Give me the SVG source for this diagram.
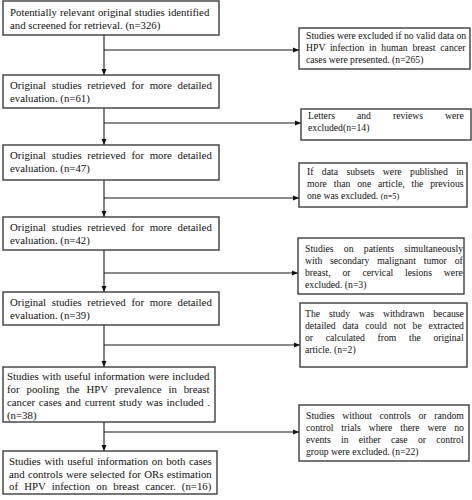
<svg xmlns="http://www.w3.org/2000/svg" width="472" height="500" viewBox="0 0 472 500">
<style>
.box{fill:#fff;stroke:#3c3c3c;stroke-width:1.4}
.l{font-family:"Liberation Serif","Times New Roman",serif;font-size:10.8px;fill:#111}
.r{font-family:"Liberation Serif","Times New Roman",serif;font-size:9.7px;fill:#111}
.c{stroke:#1a1a1a;stroke-width:1.1;fill:none}
</style>
<defs>
<marker id="ah" viewBox="0 0 6 6" refX="6" refY="3" markerWidth="6" markerHeight="6" markerUnits="userSpaceOnUse" orient="auto">
<path d="M0,0.5 L6,3 L0,5.5 Z" fill="#111"/>
</marker>
</defs>
<rect width="472" height="500" fill="#fff"/>
<g id="connectors">
<line class="c" x1="104" y1="35" x2="104" y2="75" marker-end="url(#ah)"/>
<line class="c" x1="104" y1="50" x2="299" y2="50" marker-end="url(#ah)"/>
<line class="c" x1="104" y1="108" x2="104" y2="145" marker-end="url(#ah)"/>
<line class="c" x1="104" y1="123" x2="301" y2="123" marker-end="url(#ah)"/>
<line class="c" x1="104" y1="180" x2="104" y2="217" marker-end="url(#ah)"/>
<line class="c" x1="104" y1="198" x2="299" y2="198" marker-end="url(#ah)"/>
<line class="c" x1="104" y1="250" x2="104" y2="292" marker-end="url(#ah)"/>
<line class="c" x1="104" y1="273" x2="298" y2="273" marker-end="url(#ah)"/>
<line class="c" x1="104" y1="325" x2="104" y2="367" marker-end="url(#ah)"/>
<line class="c" x1="104" y1="345" x2="300" y2="345" marker-end="url(#ah)"/>
<line class="c" x1="104" y1="422" x2="104" y2="451" marker-end="url(#ah)"/>
<line class="c" x1="104" y1="432" x2="299" y2="432" marker-end="url(#ah)"/>
</g>
<g id="n326">
<rect class="box" x="3" y="1" width="216" height="34"/>
<text class="l" x="10" y="16" word-spacing="0.5">Potentially relevant original studies identified</text>
<text class="l" x="10" y="29">and screened for retrieval. (n=326)</text>
</g>
<g id="n61">
<rect class="box" x="3" y="75" width="216" height="33"/>
<text class="l" x="10" y="89" word-spacing="3">Original studies retrieved for more detailed</text>
<text class="l" x="10" y="102">evaluation. (n=61)</text>
</g>
<g id="n47">
<rect class="box" x="3" y="145" width="216" height="35"/>
<text class="l" x="10" y="159" word-spacing="3">Original studies retrieved for more detailed</text>
<text class="l" x="10" y="172">evaluation. (n=47)</text>
</g>
<g id="n42">
<rect class="box" x="3" y="217" width="216" height="33"/>
<text class="l" x="10" y="231" word-spacing="3">Original studies retrieved for more detailed</text>
<text class="l" x="10" y="244">evaluation. (n=42)</text>
</g>
<g id="n39">
<rect class="box" x="3" y="292" width="216" height="33"/>
<text class="l" x="10" y="306" word-spacing="3">Original studies retrieved for more detailed</text>
<text class="l" x="10" y="319">evaluation. (n=39)</text>
</g>
<g id="n38">
<rect class="box" x="3" y="367" width="212" height="55"/>
<text class="l" x="7" y="380" word-spacing="0.5">Studies with useful information were included</text>
<text class="l" x="7" y="393" word-spacing="4.2">for pooling the HPV prevalence in breast</text>
<text class="l" x="7" y="406" word-spacing="1">cancer cases and current study was included .</text>
<text class="l" x="7" y="419">(n=38)</text>
</g>
<g id="n16">
<rect class="box" x="3" y="451" width="214" height="43"/>
<text class="l" x="9" y="465" word-spacing="0.9">Studies with useful information on both cases</text>
<text class="l" x="9" y="477.5" word-spacing="0.6">and controls were selected for ORs estimation</text>
<text class="l" x="9" y="490" word-spacing="3.5">of HPV infection on breast cancer. (n=16)</text>
</g>
<g id="x265">
<rect class="box" x="299" y="28" width="171" height="41"/>
<text class="r" x="306" y="39">Studies were excluded if no valid data on</text>
<text class="r" x="306" y="51" word-spacing="2.3">HPV infection in human breast cancer</text>
<text class="r" x="306" y="63">cases were presented. (n=265)</text>
</g>
<g id="x14">
<rect class="box" x="301" y="109" width="170" height="31"/>
<text class="r" x="308" y="119" word-spacing="19.6">Letters and reviews were</text>
<text class="r" x="308" y="131">excluded(n=14)</text>
</g>
<g id="x5">
<rect class="box" x="299" y="163" width="168" height="44"/>
<text class="r" x="307" y="175" word-spacing="6">If data subsets were published in</text>
<text class="r" x="307" y="187" word-spacing="4.4">more than one article, the previous</text>
<text class="r" x="307" y="199">one was excluded. <tspan font-size="8.3">(n=5)</tspan></text>
</g>
<g id="x3">
<rect class="box" x="298" y="238" width="166" height="56"/>
<text class="r" x="305" y="252" word-spacing="7.9">Studies on patients simultaneously</text>
<text class="r" x="305" y="264" word-spacing="5.4">with secondary malignant tumor of</text>
<text class="r" x="305" y="276" word-spacing="9.5">breast, or cervical lesions were</text>
<text class="r" x="305" y="288">excluded. (n=3)</text>
</g>
<g id="x2">
<rect class="box" x="300" y="303" width="167" height="64"/>
<text class="r" x="305" y="317" word-spacing="6.5">The study was withdrawn because</text>
<text class="r" x="305" y="329" word-spacing="4.3">detailed data could not be extracted</text>
<text class="r" x="305" y="341" word-spacing="10.2">or calculated from the original</text>
<text class="r" x="305" y="353">article. (n=2)</text>
</g>
<g id="x22">
<rect class="box" x="299" y="405" width="170" height="56"/>
<text class="r" x="306" y="419" word-spacing="5.3">Studies without controls or random</text>
<text class="r" x="306" y="431" word-spacing="5.5">control trials where there were no</text>
<text class="r" x="306" y="443" word-spacing="7.8">events in either case or control</text>
<text class="r" x="306" y="455">group were excluded. (n=22)</text>
</g>
</svg>
